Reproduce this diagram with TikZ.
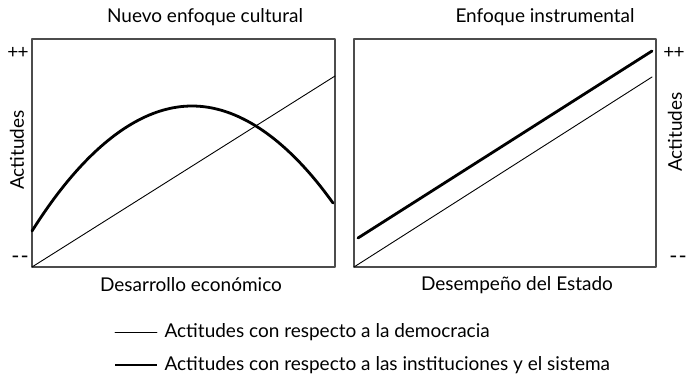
\documentclass[tikz,border=0pt]{standalone}
\usepackage{fontspec}
\setmainfont{Lato}
\usetikzlibrary{calc}

\begin{document}
\begin{tikzpicture}[line cap=round,line join=round,
  x=1pt,y=-1pt,                       % pixel-like units, y downwards
  font=\fontsize{19}{22}\selectfont,
  frame/.style={draw=black!70,line width=1.2pt,line cap=rect},
  thinln/.style={line width=0.9pt},
  thickln/.style={line width=2.8pt},
  ]
  \def\yt{39}   % box top
  \def\yb{267}  % box bottom
  \useasboundingbox (0,0) rectangle (686,381);
  % BOXES
  \coordinate (L1) at (32,\yb);  \coordinate (L2) at (335,\yt);
  \coordinate (R1) at (354,\yb); \coordinate (R2) at (656,\yt);
  \draw[frame] (L1) rectangle (L2);
  \draw[frame] (R1) rectangle (R2);
  % left panel: cultural approach
  \coordinate (Lend) at (335,76);
  \draw[thinln] (L1) -- (Lend);
  \draw[thickln] (32,231) parabola bend (192,106) (333,203);
  % right panel: instrumental approach
  \coordinate (Rthin) at (652,77);
  \coordinate (Ra) at (358,238); \coordinate (Rb) at (652,51);
  \draw[thinln] (R1) -- (Rthin);
  \draw[thickln] (Ra) -- (Rb);
  % TITLES AND AXES
  \node (tl) at (205,17)  {Nuevo enfoque cultural};
  \node (tr) at (545,17)  {Enfoque instrumental};
  \node (xl) at (191,285) {Desarrollo económico};
  \node (xr) at (517,285) {Desempeño del Estado};
  \node[rotate=90] (yl) at (17,150) {Actitudes};
  \node[rotate=90] (yr) at (675,132) {Actitudes};
  \node (pl) at (18,53)   {+\kern-1pt+};
  \node (ml) at (20,260)  {\fontsize{22}{22}\selectfont -\kern1pt-};
  \node (pr) at (674,53)  {+\kern-1pt+};
  \node (mr) at (678,260) {\fontsize{22}{22}\selectfont -\kern1pt-};
  % LEGEND
  \coordinate (g1) at (115,332); \coordinate (h1) at (157,332);
  \coordinate (g2) at (115,365); \coordinate (h2) at (157,365);
  \draw[thinln] (g1) -- (h1);
  \draw[thickln,line cap=butt] (g2) -- (h2);
  \node[anchor=west] (t1) at ($(h1)+(4,0)$) {Actitudes con respecto a la democracia};
  \node[anchor=west] (t2) at ($(h2)+(4,0)$) {Actitudes con respecto a las instituciones y el sistema};
\end{tikzpicture}
\end{document}
